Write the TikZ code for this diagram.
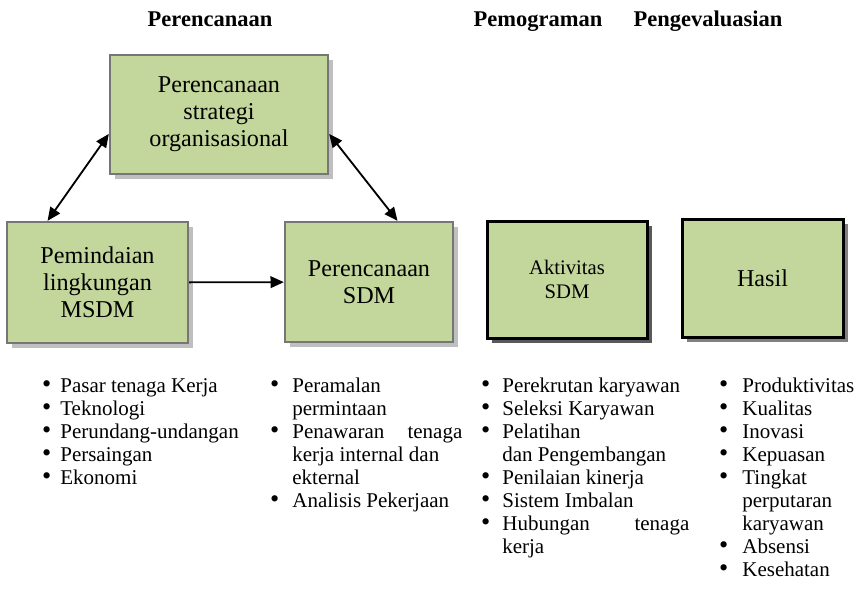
\documentclass[tikz,border=0pt]{standalone}
\usepackage{fontspec}
\setmainfont{Liberation Serif}
\usetikzlibrary{arrows.meta,shadows}
\definecolor{boxgreen}{RGB}{195,214,155}
\definecolor{boxline}{RGB}{118,118,118}
\newlength{\px}
\setlength{\px}{0.6pt}
\newcommand{\blt}[1]{\strut\llap{\scalebox{1.25}{\textbullet}\hspace{#1\px}}}
\tikzset{
  >={Triangle[length=8pt,width=7pt]},
  ttl/.style={anchor=base, inner sep=0pt, font=\bfseries\fontsize{13.5}{16}\selectfont},
  hrbox/.style={draw=boxline, line width=1.4pt, fill=boxgreen, align=center, inner sep=2pt,
    font=\fontsize{14.5}{16.2}\selectfont,
    drop shadow={shadow xshift=3.2pt, shadow yshift=-3.2pt, fill=black!25, opacity=1}},
  actbox/.style={hrbox, draw=black, line width=1.8pt,
    drop shadow={shadow xshift=3.2pt, shadow yshift=-3.2pt, fill=black!65, opacity=1}},
  outbox/.style={hrbox, draw=black, line width=1.8pt,
    drop shadow={shadow xshift=3.2pt, shadow yshift=-3.2pt, fill=black!50, opacity=1}},
  lst/.style={anchor=north west, align=left, inner sep=0pt, font=\fontsize{12.6}{13.8}\selectfont},
  link/.style={line width=1.1pt}
}
\begin{document}
\begin{tikzpicture}[x=0.6pt,y=-0.6pt]
    \useasboundingbox (0,0) rectangle (866,599);
    \node[ttl] (tPlan) at (210,27) {Perencanaan};
    \node[ttl] (tProg) at (538,27) {Pemograman};
    \node[ttl] (tEval) at (708,27) {Pengevaluasian};
    \node[hrbox, minimum width=130.8pt, minimum height=71.4pt] (strat) at (219,114.5) {Perencanaan\\strategi\\organisasional};
    \node[hrbox, minimum width=108.6pt, minimum height=72.6pt] (scan) at (97.5,282.5) {Pemindaian\\lingkungan\\MSDM};
    \node[hrbox, minimum width=100.8pt, minimum height=72pt] (plan) at (369,282) {Perencanaan\\SDM};
    \node[actbox, minimum width=96pt, minimum height=70.2pt, font=\fontsize{12.4}{14.4}\selectfont] (act) at (567,279.5) {Aktivitas\\SDM};
    \node[outbox, minimum width=96.6pt, minimum height=70.8pt] (out) at (762.5,278) {Hasil};
    \draw[<->, link] (strat.190) -- (scan.129);
    \draw[<->, link] (strat.350) -- (plan.65);
    \draw[->, link] (scan) -- (plan);
    \node[lst] (lstScan) at (60,376) {\blt{9}Pasar tenaga Kerja\\\blt{9}Teknologi\\\blt{9}Perundang-undangan\\\blt{9}Persaingan\\\blt{9}Ekonomi};
    \node[lst] (lstPlan) at (292,376) {\blt{13}Peramalan\\permintaan\\\blt{13}\hbox to 170\px{Penawaran\hfill tenaga}\\kerja internal dan\\ekternal\\\blt{13}Analisis Pekerjaan};
    \node[lst] (lstAct) at (502,376) {\blt{12}Perekrutan karyawan\\\blt{12}Seleksi Karyawan\\\blt{12}Pelatihan\\dan Pengembangan\\\blt{12}Penilaian kinerja\\\blt{12}Sistem Imbalan\\\blt{12}\hbox to 187\px{Hubungan\hfill tenaga}\\kerja};
    \node[lst] (lstOut) at (742,376) {\blt{14}Produktivitas\\\blt{14}Kualitas\\\blt{14}Inovasi\\\blt{14}Kepuasan\\\blt{14}Tingkat\\perputaran\\karyawan\\\blt{14}Absensi\\\blt{14}Kesehatan};
\end{tikzpicture}
\end{document}
